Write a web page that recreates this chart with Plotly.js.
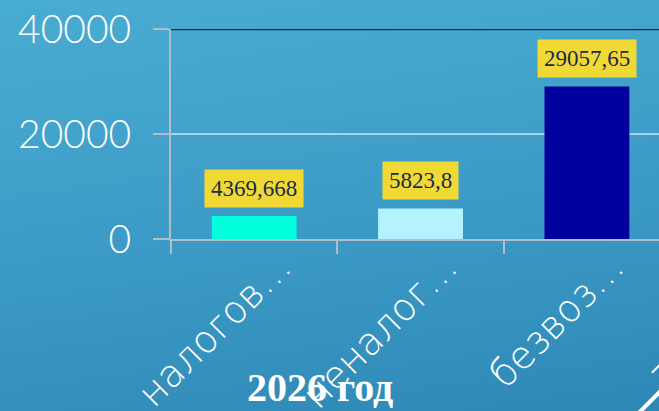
<!DOCTYPE html>
<html>
<head>
<meta charset="utf-8">
<script src="https://cdn.plot.ly/plotly-3.0.1.min.js"></script>
<style>
  html, body { margin: 0; padding: 0; }
  #chart { width: 659px; height: 411px;
    background: linear-gradient(172deg, #49acd2 0%, #3d9cc7 50%, #2e88b6 100%); }
</style>
</head>
<body>
<div id="chart"></div>
<script>
const categories = ["налогов…", "неналог…", "безвоз…"];
const values = [4369.668, 5823.8, 29057.65];
const valueLabels = ["4369,668", "5823,8", "29057,65"];
const barColors = ["#00FFDB", "#B5F2FF", "#00009C"];
const yTickVals = [0, 20000, 40000];
const yTickText = ["0", "20000", "40000"];
const chartTitle = "2026 год";

const W = 659, H = 411;
const plotL = 170.6, plotR = 659, plotT = 29.3, plotB = 239.3;
const px2x = p => (p - plotL) / (plotR - plotL);
const px2y = p => (plotB - p) / (plotB - plotT);

const trace = {
  type: "bar",
  x: categories,
  y: values,
  width: 0.51,
  marker: { color: barColors, line: { width: 0 } },
  hoverinfo: "none"
};

const annotations = categories.map((c, i) => ({
  x: c, y: values[i], xref: "x", yref: "y",
  text: valueLabels[i], showarrow: false,
  yanchor: "bottom", xanchor: "center", yshift: 8,
  bgcolor: "#F1D935", borderpad: 6,
  font: { family: "Liberation Serif, Times New Roman, serif", size: 23, color: "#1c2a4a" }
}));
annotations.push({
  xref: "paper", yref: "paper", x: px2x(320), y: px2y(388),
  xanchor: "center", yanchor: "middle", showarrow: false,
  text: "<b>" + chartTitle + "</b>",
  font: { family: "Liberation Serif, Times New Roman, serif", size: 40, color: "#ffffff" }
});

const layout = {
  width: W, height: H,
  margin: { l: plotL, r: W - plotR, t: plotT, b: H - plotB, pad: 0 },
  paper_bgcolor: "rgba(0,0,0,0)",
  plot_bgcolor: "rgba(0,0,0,0)",
  showlegend: false,
  bargap: 0.49,
  xaxis: {
    type: "category",
    range: [-0.5, -0.5 + (plotR - plotL) / 166.5],
    showgrid: false, zeroline: false,
    showline: true, linecolor: "#b4bccb", linewidth: 2,
    ticks: "outside", ticklen: 13, tickwidth: 2, tickcolor: "#b4bccb",
    tickson: "boundaries",
    tickangle: -45,
    ticklabelshift: 26,
    ticklabelstandoff: -12,
    tickfont: { family: "DejaVu Sans, sans-serif", size: 38, color: "#ffffff", weight: 200 }
  },
  yaxis: {
    range: [0, 40000],
    tickvals: yTickVals, ticktext: yTickText,
    showgrid: true, gridcolor: "#a5d3e8", gridwidth: 2,
    zeroline: false,
    showline: true, linecolor: "#b4bccb", linewidth: 2,
    ticks: "outside", ticklen: 16, tickwidth: 2, tickcolor: "#b4bccb",
    ticklabelstandoff: 14,
    tickfont: { family: "Lato, sans-serif", size: 39, color: "#ffffff", weight: 300 }
  },
  shapes: [
    { type: "line", xref: "paper", yref: "y", x0: 0, x1: 1, y0: 40000, y1: 40000,
      line: { color: "#0c2c66", width: 2.5 } },
    { type: "line", xref: "paper", yref: "paper",
      x0: px2x(652), y0: px2y(373), x1: px2x(662), y1: px2y(363),
      line: { color: "#ffffff", width: 2 } },
    { type: "line", xref: "paper", yref: "paper",
      x0: px2x(638), y0: px2y(414), x1: px2x(662), y1: px2y(390),
      line: { color: "#ffffff", width: 4 } }
  ],
  annotations: annotations
};

Plotly.newPlot("chart", [trace], layout, { staticPlot: true, displayModeBar: false });
</script>
</body>
</html>
